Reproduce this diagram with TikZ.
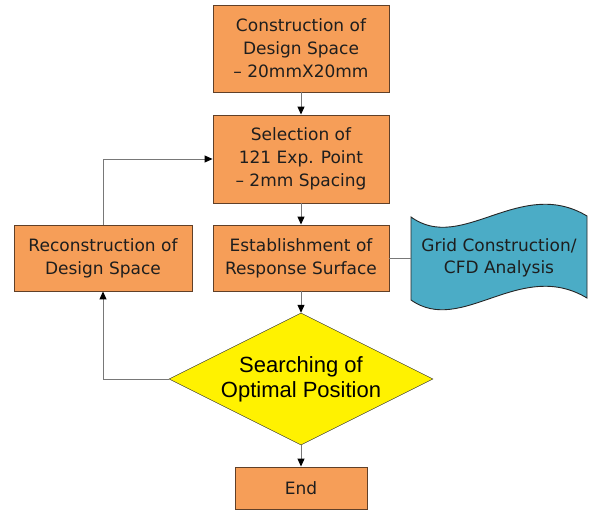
\documentclass[tikz,border=0pt]{standalone}
\usepackage{fontspec}
\setmainfont{DejaVu Sans}
\newfontfamily\arialfont{Liberation Sans}
\usetikzlibrary{shapes.geometric,arrows.meta}

\definecolor{boxorange}{RGB}{246,158,88}
\definecolor{boxline}{RGB}{96,64,40}
\definecolor{docblue}{RGB}{75,172,198}
\definecolor{linkgray}{RGB}{120,120,120}
\definecolor{txtgray}{RGB}{30,30,30}

\tikzset{
  box/.style={draw=boxline, fill=boxorange, line width=0.9pt, minimum width=176pt,
    inner sep=0pt, align=center, text=txtgray, font=\fontsize{17}{23}\selectfont},
  decision/.style={draw=black!80, fill=yellow, shape=diamond, aspect=2,
    minimum width=264pt, minimum height=132pt, inner sep=0pt, align=center,
    font=\arialfont\fontsize{22}{25}\selectfont},
  link/.style={draw=linkgray, line width=1pt},
  arrow/.style={link, -{Triangle[length=8pt,width=7pt,color=black]}},
}

\begin{document}
\begin{tikzpicture}[x=1pt,y=-1pt]
  \useasboundingbox (0,0) rectangle (589,511);

  % main column
  \node[box, minimum height=87pt] (design) at (301,48.5) {Construction of\\Design Space\\ – 20mmX20mm};
  \node[box, minimum height=88pt] (points) at (301,159) {Selection of\\121 Exp. Point\\ – 2mm Spacing};
  \node[box, minimum height=66pt] (surface) at (301,258) {Establishment of\\Response Surface};
  \node[decision] (search) at (301,379) {Searching of\\Optimal Position};
  \node[box, minimum width=132pt, minimum height=42pt] (end) at (301,488) {End};

  % side boxes
  \node[box, minimum width=178pt, minimum height=66pt] (rebuild) at (103,258) {Reconstruction of\\Design Space};
  \draw[draw=black!85, fill=docblue, line width=0.9pt]
    (411,217) .. controls (462,254) and (520,176) .. (587,216) -- (587,298)
    .. controls (520,258) and (462,336) .. (411,300) -- cycle;
  \node[minimum width=176pt, minimum height=83pt, inner sep=0pt, align=center, text=txtgray,
    font=\fontsize{17}{22}\selectfont] (grid) at (499,258) {Grid Construction/\\CFD Analysis};

  % connectors
  \draw[arrow] (design) -- (points);
  \draw[arrow] (points) -- (surface);
  \draw[arrow] (surface) -- (search);
  \draw[arrow] (search) -- (end);
  \draw[link] (surface) -- (grid);
  \draw[arrow] (search.west) -| (rebuild.south);
  \draw[arrow] (rebuild.north) |- (points.west);
\end{tikzpicture}
\end{document}
